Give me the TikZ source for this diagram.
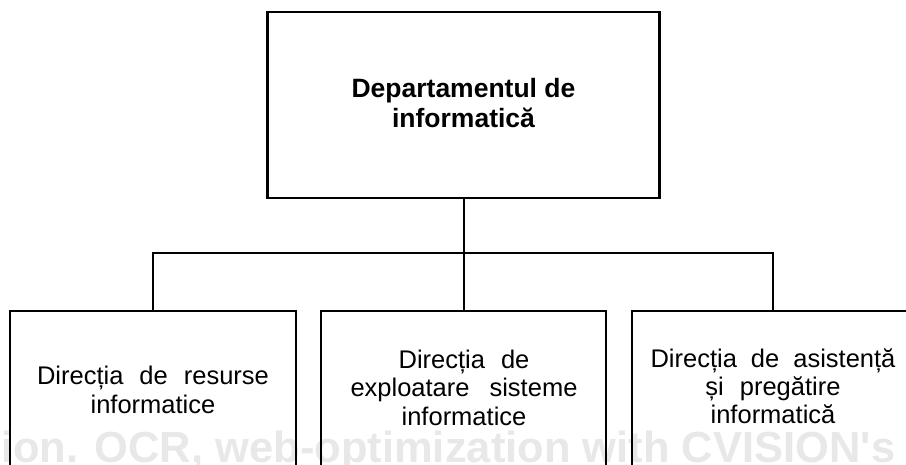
\documentclass[tikz,border=0pt]{standalone}
\usepackage{fontspec}
\setmainfont{Liberation Sans}
\newcommand\wsp[1]{\hspace{#1pt}}
\begin{document}
\begin{tikzpicture}[x=1pt,y=-1pt,
  topbox/.style={draw, line width=2.4pt, inner sep=0pt},
  lowbox/.style={draw, line width=1.6pt, inner sep=0pt, minimum height=229pt},
  toptext/.style={align=center, inner sep=0pt, font=\fontsize{26.5}{30}\selectfont\bfseries},
  lowtext/.style={align=center, inner sep=0pt, font=\fontsize{25.5}{29}\selectfont},
  conn/.style={line width=2pt},
  wm/.style={inner sep=0pt, text=black!9, font=\fontsize{43.5}{46}\selectfont\bfseries}]
\clip (0,0) rectangle (906,464);
\fill[white] (0,0) rectangle (906,464);
\node[wm, anchor=base west] (wm) at (1,462) {ion. OCR, web-optimization with CVISION\textquotesingle s};
\node[topbox, minimum width=392pt, minimum height=186pt] (top) at (463.5,105) {};
\node[toptext, anchor=base] (toptxt) at (463.5,127) {Departamentul de\\informatică};
\node[lowbox, minimum width=286pt] (n1) at (153,425.5) {};
\node[lowbox, minimum width=285pt] (n2) at (463.5,425.5) {};
\node[lowbox, minimum width=282pt] (n3) at (773,425.5) {};
\node[lowtext, anchor=base] (t1) at (153,413) {Direcția\wsp{16}de\wsp{16}resurse\\informatice};
\node[lowtext, anchor=base, font=\fontsize{25.5}{28.5}\selectfont] (t2) at (464,425) {Direcția\wsp{16}de\\exploatare\wsp{20}sisteme\\informatice};
\node[lowtext, anchor=base, font=\fontsize{25.5}{28}\selectfont] (t3) at (773,423) {Direcția\wsp{14}de\wsp{14}asistență\\și\wsp{16}pregătire\\informatică};
\coordinate (barY) at (0,253);
\draw[conn] (top.south) -- (n2.north);
\draw[conn] (n1.north) -- (n1.north |- barY) -- (n3.north |- barY) -- (n3.north);
\end{tikzpicture}
\end{document}
